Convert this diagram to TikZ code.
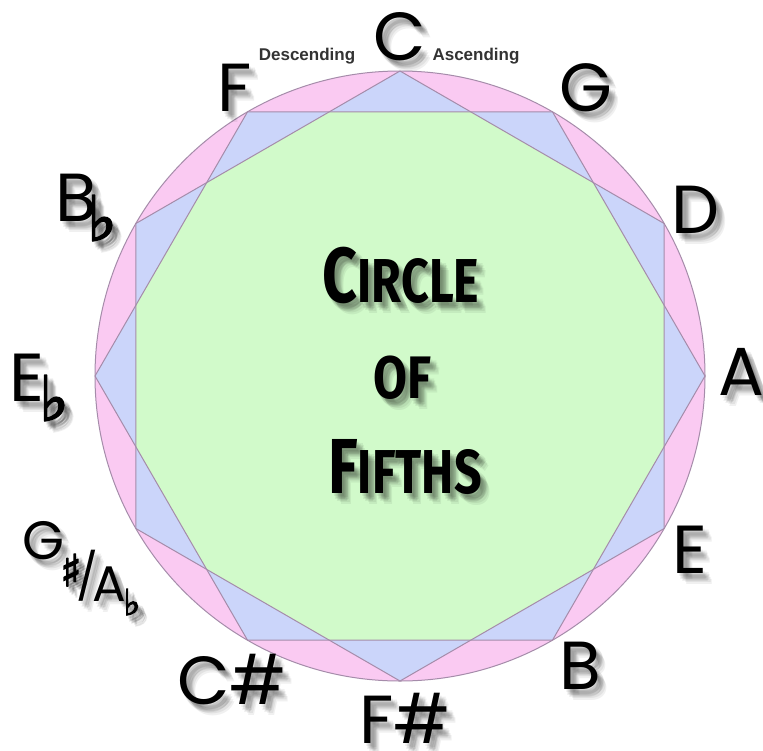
\documentclass[tikz,border=0pt]{standalone}
\usepackage{fontspec}
\usepackage{graphicx}
\usetikzlibrary{calc}
\newfontfamily\lblfont{Poppins}
\newfontfamily\symfont[FakeBold=3]{DejaVu Sans}
\newfontfamily\smallfont{Liberation Sans}
\newfontfamily\titlefont{Fira Sans}
\definecolor{pinkfill}{RGB}{250,202,242}
\definecolor{bluefill}{RGB}{203,213,250}
\definecolor{greenfill}{RGB}{209,250,202}
\definecolor{edgecol}{RGB}{165,140,170}
\tikzset{
  edge/.style={draw=edgecol, line width=1pt, line join=round},
  big/.style={font=\lblfont\fontsize{68}{68}\selectfont, inner sep=0pt},
  flat/.style={font=\symfont\bfseries\fontsize{62}{62}\selectfont, inner sep=0pt},
  tiny/.style={font=\smallfont\bfseries\fontsize{17}{17}\selectfont, inner sep=0pt, text=black!80},
}
\newcommand\shadowed[4]{%
  \foreach \sx/\sy in {2/3,4/5,6/7,8/9,3/6,6/4,5/8,7/6,9/11} {
    \node[#3, text=black, opacity=0.06] at ($(#2)+(\sx,\sy)$) {#4};
  }
  \node[#3] (#1) at (#2) {#4};
}
\begin{document}
\begin{tikzpicture}[x=1pt,y=-1pt]
\useasboundingbox (0,0) rectangle (763,750);
\fill[white] (0,0) rectangle (763,750);
\coordinate (O) at (400,376);
\foreach \i in {0,...,11}
  \coordinate (v\i) at ({400+305*sin(30*\i)},{376-305*cos(30*\i)});
\fill[pinkfill] (O) circle (305pt);
\fill[bluefill] (v0)--(v2)--(v4)--(v6)--(v8)--(v10)--cycle;
\fill[bluefill] (v1)--(v3)--(v5)--(v7)--(v9)--(v11)--cycle;
\begin{scope}
  \clip (v0)--(v2)--(v4)--(v6)--(v8)--(v10)--cycle;
  \fill[greenfill] (v1)--(v3)--(v5)--(v7)--(v9)--(v11)--cycle;
\end{scope}
\draw[edge] (O) circle (305pt);
\draw[edge] (v0)--(v2)--(v4)--(v6)--(v8)--(v10)--cycle;
\draw[edge] (v1)--(v3)--(v5)--(v7)--(v9)--(v11)--cycle;

% note labels
\shadowed{C}{400,37}{big}{C}
\shadowed{G}{586,88}{big}{G}
\shadowed{D}{696,210}{big}{D}
\shadowed{A}{741,372}{big}{A}
\shadowed{E}{690,550}{big}{E}
\shadowed{B}{580,666}{big}{B}
\shadowed{Fs}{405,718}{big}{F\#}
\shadowed{Cs}{232,680}{big}{C\#}
\shadowed{F}{235,88}{big}{F}
\shadowed{Bb}{76,198}{big}{B}
\shadowed{Bbf}{102,218}{flat}{♭}
\shadowed{Eb}{27,378}{big}{E}
\shadowed{Ebf}{54,398}{flat}{♭}
\shadowed{Gs}{44,541}{big, font=\lblfont\fontsize{54}{54}\selectfont}{G}
\shadowed{Gss}{71,570}{flat, font=\symfont\fontsize{44}{44}\selectfont}{♯}
\shadowed{slash}{87,576}{big, font=\lblfont\fontsize{46}{46}\selectfont}{/}
\shadowed{Ab}{109,584}{big, font=\lblfont\fontsize{50}{50}\selectfont}{A}
\shadowed{Abf}{132,602}{flat, font=\symfont\fontsize{36}{36}\selectfont}{♭}

\node[tiny] (desc) at (307,56) {Descending};
\node[tiny] (asc) at (476,56) {Ascending};

% title
\shadowed{t1}{401,275}{font=\titlefont\bfseries, inner sep=0pt}{\scalebox{0.78}[1]{\fontsize{78}{78}\selectfont C\fontsize{62}{62}\selectfont IRCLE}}
\shadowed{t2}{402,378}{font=\titlefont\bfseries, inner sep=0pt}{\scalebox{0.82}[1]{\fontsize{60}{60}\selectfont OF}}
\shadowed{t3}{405,467}{font=\titlefont\bfseries, inner sep=0pt}{\scalebox{0.78}[1]{\fontsize{78}{78}\selectfont F\fontsize{62}{62}\selectfont IFTHS}}
\end{tikzpicture}
\end{document}
